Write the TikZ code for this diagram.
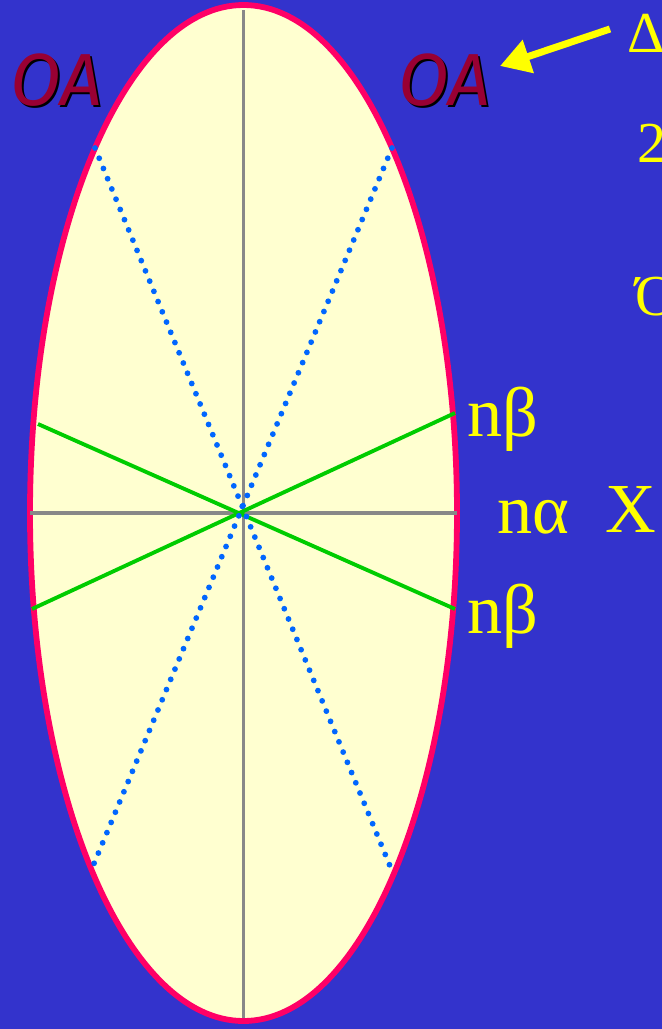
\documentclass[tikz,border=0pt]{standalone}
\usepackage{fontspec}
\setmainfont{Liberation Serif}
\newfontfamily\oafont{Fira Sans}
\usetikzlibrary{arrows.meta}
\definecolor{slide}{RGB}{51,51,204}
\definecolor{eggshell}{RGB}{255,255,208}
\definecolor{rim}{RGB}{255,0,102}
\definecolor{axisgray}{RGB}{136,136,136}
\definecolor{leaf}{RGB}{0,204,0}
\definecolor{dotblue}{RGB}{0,102,255}
\definecolor{maroon}{RGB}{153,0,51}
\definecolor{lemon}{RGB}{255,255,0}

\begin{document}
\begin{tikzpicture}[x=0.02cm, y=-0.02cm,
        ax/.style={draw=axisgray, line width=2.2pt},
        gr/.style={draw=leaf, line width=2.2pt},
        dt/.style={draw=dotblue, line width=3.3pt, line cap=round, dash pattern=on 0pt off 6.3pt},
        lab/.style={text=lemon, font=\fontsize{40}{40}\selectfont, inner sep=0pt, anchor=base west},
        side/.style={text=lemon, font=\fontsize{33}{33}\selectfont, inner sep=0pt, anchor=base west},
        oa/.style={text=maroon, font=\oafont\itshape\fontsize{42}{42}\selectfont, inner sep=0pt, anchor=base west},
        oash/.style={oa, text=black},
        arr/.style={-{Triangle[length=17pt,width=19pt]}, draw=lemon, line width=4pt}]
      \useasboundingbox (0,0) rectangle (662,1029);
      \clip (0,0) rectangle (662,1029);
      \fill[slide] (0,0) rectangle (662,1029);
      % the ellipse
      \coordinate (c) at (243.5,513);
      \filldraw[fill=eggshell, draw=rim, line width=3.3pt] (c) ellipse [x radius=213.5, y radius=508];
      % axes
      \coordinate (top) at (243.5,10);
      \coordinate (bot) at (243.5,1018);
      \coordinate (lft) at (30,513);
      \coordinate (rgt) at (457,513);
      \draw[ax] (top) -- (bot);
      \draw[ax] (lft) -- (rgt);
      % green lines
      \coordinate (g1) at (38,424);
      \coordinate (g2) at (455,609);
      \coordinate (g3) at (32,609);
      \coordinate (g4) at (455,413);
      \draw[gr] (g1) -- (g2);
      \draw[gr] (g3) -- (g4);
      % dotted lines
      \coordinate (d1) at (95,148);
      \coordinate (d2) at (390,866);
      \coordinate (d3) at (392,148);
      \coordinate (d4) at (93,866);
      \draw[dt] (d1) -- (d2);
      \draw[dt] (d3) -- (d4);
      % labels
      \node[oash] (oalsh) at (12,107) {OA};
      \node[oa] (oal) at (10,105) {OA};
      \node[oash] (oarsh) at (400,107) {OA};
      \node[oa] (oar) at (398,105) {OA};
      \node[lab] (nb1) at (467,436) {nβ};
      \node[lab] (na) at (497,533) {nα};
      \node[lab] (xx) at (605,532) {X};
      \node[lab] (nb2) at (467,633) {nβ};
      \node[side] (dl) at (627,52) {Δ};
      \node[side] (two) at (637,162) {2};
      \node[side] (om) at (635,315) {Ό};
      % arrow
      \coordinate (tail) at (610,29);
      \coordinate (tip) at (500,66);
      \draw[arr] (tail) -- (tip);
    \end{tikzpicture}
\end{document}
